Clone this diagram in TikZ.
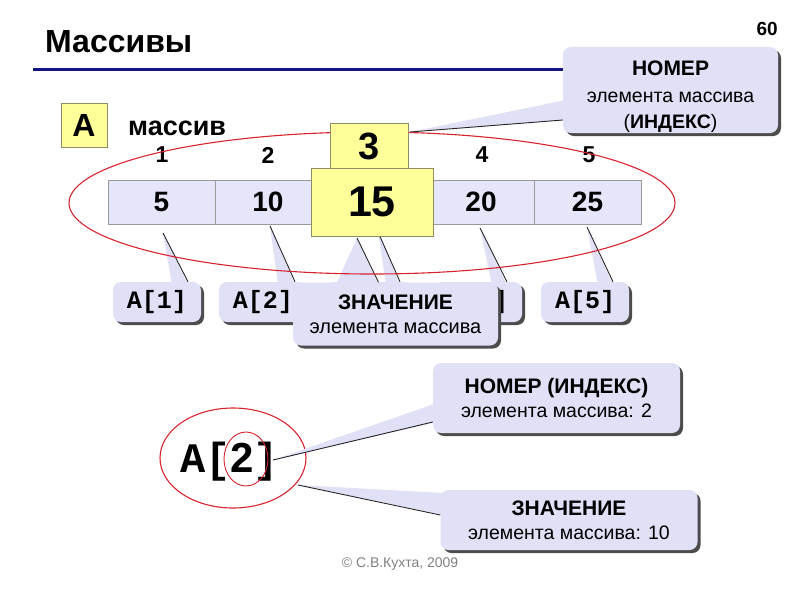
\documentclass[tikz,border=0pt]{standalone}
\usepackage{fontspec}
\setmainfont{Liberation Sans}
\newfontfamily\courfont{Liberation Mono}
\usetikzlibrary{shadows}
\usetikzlibrary{calc}

\definecolor{lav}{RGB}{224,224,246}
\definecolor{cellblue}{RGB}{230,230,250}
\definecolor{lemon}{RGB}{255,255,153}
\definecolor{navy}{RGB}{20,20,130}
\definecolor{ovalred}{RGB}{215,35,45}
\newcommand{\fsz}[2]{\fontsize{#1}{#2}\selectfont}

\tikzset{
  cell/.style={draw=gray!80, fill=cellblue, minimum width=106.5pt, minimum height=44pt, inner sep=0pt, font=\fsz{28}{28}\bfseries},
  marked/.style={draw=gray!70!olive, fill=lemon, inner sep=0pt},
  note/.style={fill=lav, rounded corners=8pt, inner sep=0pt, align=center,
    drop shadow={shadow xshift=3pt, shadow yshift=-3pt, fill=black!70, opacity=1}},
  elem/.style={note, minimum width=88pt, minimum height=40pt, font=\courfont\fsz{25}{25}\bfseries},
  tailedge/.style={draw=black!85, line width=0.9pt},
  oval/.style={draw=ovalred, line width=1.1pt},
}

\begin{document}
\begin{tikzpicture}[x=1pt,y=-1pt]
    \useasboundingbox (0,0) rectangle (800,600);
    % heading
    \node[anchor=base west, inner sep=0pt, font=\fsz{32}{32}\bfseries] (title) at (45,52) {Массивы};
    \node[anchor=base east, inner sep=0pt, font=\fsz{19}{19}\bfseries] (page) at (778,35) {60};
    \draw[navy, line width=3pt] (33,69) -- (570,69);
    \node[marked, minimum width=46pt, minimum height=44pt, font=\fsz{32}{32}\bfseries] (name) at (84,125) {A};
    \node[anchor=base west, inner sep=0pt, font=\fsz{27}{27}\bfseries] (kind) at (128,135) {массив};
    % the array
    \node[cell] (c1) at (161.5,202) {5};
    \node[cell] (c2) at (268,202) {10};
    \node[cell] (c3) at (374.5,202) {};
    \node[cell] (c4) at (481,202) {20};
    \node[cell] (c5) at (587.5,202) {25};
    \node[font=\fsz{23}{23}\bfseries] (i1) at (162,155) {1};
    \node[font=\fsz{23}{23}\bfseries] (i2) at (268,155) {2};
    \node[font=\fsz{23}{23}\bfseries] (i4) at (482,155) {4};
    \node[font=\fsz{23}{23}\bfseries] (i5) at (589,155) {5};
    % A[i] notes
    \coordinate (t1) at (163,233);
    \coordinate (t2) at (270,226);
    \coordinate (t3) at (378,232);
    \coordinate (t4) at (480,228);
    \coordinate (t5) at (587,227);
    \node[elem] (a1) at (157,302) {A[1]};
    \fill[lav] (t1) -- ($(a1.north)+(15,3)$) -- ($(a1.north)+(31,3)$) -- cycle;
    \draw[tailedge] (t1) -- ($(a1.north)+(31,0)$);
    \node[elem] (a2) at (263,302) {A[2]};
    \fill[lav] (t2) -- ($(a2.north)+(15,3)$) -- ($(a2.north)+(32,3)$) -- cycle;
    \draw[tailedge] (t2) -- ($(a2.north)+(32,0)$);
    \node[elem] (a3) at (369,302) {};
    \fill[lav] (t3) -- ($(a3.north)+(17,3)$) -- ($(a3.north)+(31,3)$) -- cycle;
    \draw[tailedge] (t3) -- ($(a3.north)+(31,0)$);
    \node[elem] (a4) at (478,302) {A[4]};
    \fill[lav] (t4) -- ($(a4.north)+(14,3)$) -- ($(a4.north)+(29,3)$) -- cycle;
    \draw[tailedge] (t4) -- ($(a4.north)+(29,0)$);
    \node[elem] (a5) at (585,302) {A[5]};
    \fill[lav] (t5) -- ($(a5.north)+(13,3)$) -- ($(a5.north)+(28,3)$) -- cycle;
    \draw[tailedge] (t5) -- ($(a5.north)+(28,0)$);
    % value note
    \coordinate (tv) at (357,238);
    \node[note, minimum width=205pt, minimum height=63pt, font=\fsz{20}{24}] (val) at (395.5,314)
        {{\bfseries\fsz{21}{24}ЗНАЧЕНИЕ}\\элемента массива};
    \fill[lav] (tv) -- ($(val.north)+(-60,3)$) -- ($(val.north)+(-17,3)$) -- cycle;
    \draw[tailedge] (tv) -- ($(val.north)+(-17,0)$);
    % index note
    \coordinate (tn) at (410,132);
    \node[note, minimum width=215pt, minimum height=86pt, font=\fsz{19.5}{26.5}] (num) at (670.5,90)
        {\rule{0pt}{29pt}{\bfseries\fsz{21}{26.5}НОМЕР}\\элемента массива\\(\textbf{ИНДЕКС})};
    \fill[lav] (tn) -- ($(num.west)+(3,10)$) -- ($(num.west)+(3,30)$) -- cycle;
    \draw[tailedge] (tn) -- ($(num.west)+(0,30)$);
    % ring round the array
    \draw[oval] (372,203) ellipse (303 and 71);
    \node[marked, minimum width=78pt, minimum height=47pt, font=\fsz{38}{38}\bfseries] (idx) at (369,146.5) {3};
    \node[marked, minimum width=122pt, minimum height=68pt, font=\fsz{43}{43}\bfseries] (big) at (372,202) {15};
    % one element
    \node[anchor=base west, inner sep=0pt, font=\courfont\fsz{42}{42}\bfseries] (elt) at (180,472)
        {A[{\rmfamily 2}]};
    \draw[oval] (233,458) ellipse (73 and 50);
    \draw[oval, line width=0.9pt] (246,459) ellipse (22 and 27);
    \coordinate (tk) at (273,460);
    \coordinate (tz) at (298,485);
    \node[note, minimum width=247pt, minimum height=70pt, font=\fsz{19.5}{24}] (num2) at (556.5,398)
        {{\bfseries\fsz{21}{24}НОМЕР (ИНДЕКС)}\\элемента массива: 2};
    \fill[lav] (tk) -- ($(num2.west)+(4,5)$) -- ($(num2.west)+(4,24)$) -- cycle;
    \draw[tailedge] (tk) -- ($(num2.west)+(0,24)$);
    \node[note, minimum width=257pt, minimum height=60pt, font=\fsz{19.5}{24}] (val2) at (569,520)
        {{\bfseries\fsz{21}{24}ЗНАЧЕНИЕ}\\элемента массива: 10};
    \fill[lav] (tz) -- ($(val2.west)+(4,-27)$) -- ($(val2.west)+(4,-5)$) -- cycle;
    \draw[tailedge] (tz) -- ($(val2.west)+(0,-5)$);
    % footer
    \node[anchor=base, inner sep=0pt, text=gray, font=\fsz{14}{14}] (copy) at (400,567) {© С.В.Кухта, 2009};
\end{tikzpicture}
\end{document}
